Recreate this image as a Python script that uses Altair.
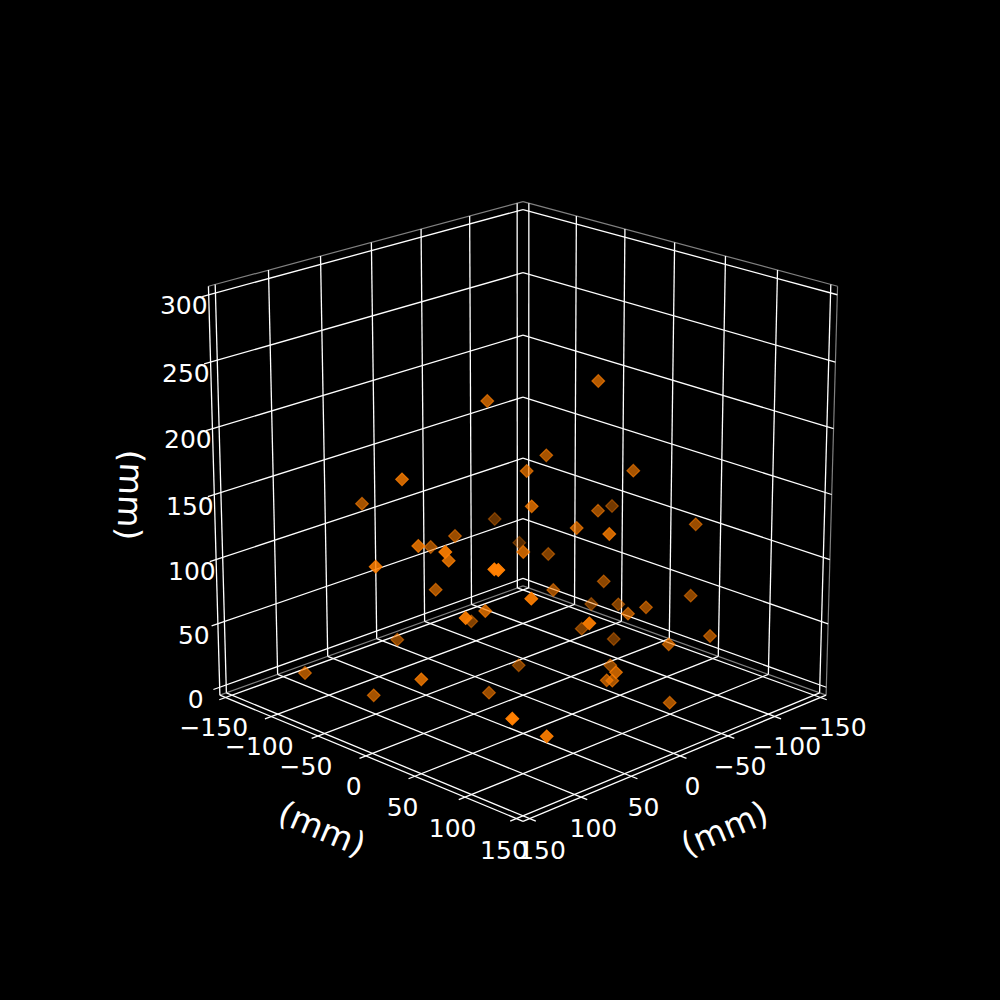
import math
import altair as alt
import pandas as pd

# Tick values of the three axes (mm)
x_ticks = [-150, -100, -50, 0, 50, 100, 150]
y_ticks = [-150, -100, -50, 0, 50, 100, 150]
z_ticks = [0, 50, 100, 150, 200, 250, 300]
axis_title = "(mm)"

# Scatter: projected positions and depth-shade opacity
px = [487.3, 402, 362, 526.7, 531.7, 494.7, 455, 418.3, 430.7, 445.3, 448.7, 519.3, 523.3, 375.7,
      494.3, 498.3, 598.3, 546.3, 633.3, 598, 612, 576.7, 609.3, 695.7, 548.3, 435.7, 485.3, 465.7,
      471.3, 397.3, 305, 421.3, 373.7, 518.7, 489, 512.3, 531.3, 553.3, 603.7, 591.3, 618.3, 628,
      646, 690.7, 710, 589.3, 581.7, 613.7, 668.7, 610.3, 616, 606.7, 612.3, 669.7, 546.7]
py = [401, 479.3, 503.7, 471, 506.3, 519, 536, 546, 547, 552, 560.7, 542.7, 552, 566.7,
      569.3, 570, 381, 455.3, 470.7, 510.7, 506, 528, 534, 524.3, 554, 589.7, 611, 618,
      621.3, 639.7, 673, 679.3, 695.3, 665.3, 692.7, 718.7, 598.7, 590, 581.3, 604, 604.3, 613.7,
      607.3, 595.7, 636, 623.3, 628.7, 639, 644.3, 665.3, 672.3, 680.3, 680.7, 702.7, 736.3]
shade = [.7, .8, .65, .7, .75, .4, .6, .8, .6, .92, .8, .35, .75, .85,
         1, 1, .7, .65, .65, .6, .45, .7, .8, .6, .5, .65, .75, .92,
         .5, .55, .65, .8, .65, .5, .6, 1, .92, .6, .55, .45, .5, .65,
         .6, .55, .6, .92, .5, .45, .65, .55, .75, .65, .65, .65, .92]

# Camera of the 3D view
ELEV, AZIM, DIST = math.radians(19.8), math.radians(45), 10.0
LOW, HIGH, Z_LOW, Z_HIGH = -156.25, 156.25, -6.25, 306.25
BOX, Z_BOX = 1.1003, 1.0948
SCALE, CX, CY = 3968.0, 523.0, 494.5


def project(x, y, z):
    k = BOX / (HIGH - LOW)
    kz = Z_BOX / (Z_HIGH - Z_LOW)
    p = (x * k, y * k, (z - (Z_LOW + Z_HIGH) / 2) * kz)
    ce, se, ca, sa = math.cos(ELEV), math.sin(ELEV), math.cos(AZIM), math.sin(AZIM)
    u = (-sa, ca, 0)
    v = (-se * ca, -se * sa, ce)
    w = (ce * ca, ce * sa, se)
    dot = lambda a: sum(i * j for i, j in zip(a, p))
    d = DIST - dot(w)
    return CX + SCALE * dot(u) / d, CY - SCALE * dot(v) / d


def seg(a, b):
    (x0, y0), (x1, y1) = project(*a), project(*b)
    return {"x": x0, "y": y0, "x2": x1, "y2": y1}


TICK = 6.0
grid = []
for t in x_ticks:
    grid.append(seg((t, LOW, Z_LOW), (t, HIGH + TICK, Z_LOW)))
    grid.append(seg((t, LOW, Z_LOW), (t, LOW, Z_HIGH)))
for t in y_ticks:
    grid.append(seg((LOW, t, Z_LOW), (HIGH + TICK, t, Z_LOW)))
    grid.append(seg((LOW, t, Z_LOW), (LOW, t, Z_HIGH)))
for t in z_ticks:
    grid.append(seg((LOW, LOW, t), (HIGH + TICK, LOW, t)))
    grid.append(seg((LOW, LOW, t), (LOW, HIGH, t)))

pane_edges = [
    seg((LOW, LOW, Z_HIGH), (HIGH, LOW, Z_HIGH)),
    seg((LOW, LOW, Z_HIGH), (LOW, HIGH, Z_HIGH)),
    seg((LOW, HIGH, Z_LOW), (LOW, HIGH, Z_HIGH)),
    seg((LOW, LOW, Z_LOW), (HIGH, LOW, Z_LOW)),
    seg((LOW, LOW, Z_LOW), (LOW, HIGH, Z_LOW)),
]
axis_lines = [
    seg((HIGH, LOW, Z_LOW), (HIGH, HIGH, Z_LOW)),
    seg((LOW, HIGH, Z_LOW), (HIGH, HIGH, Z_LOW)),
    seg((HIGH, LOW, Z_LOW), (HIGH, LOW, Z_HIGH)),
]


def lab(t):
    return str(t).replace("-", "\u2212")


labels = []
for t in x_ticks:
    sx, sy = project(t, HIGH + 12, Z_LOW - 19.5)
    labels.append({"x": sx, "y": sy, "t": lab(t)})
for t in y_ticks:
    sx, sy = project(HIGH + 12, t, Z_LOW - 19.5)
    labels.append({"x": sx, "y": sy, "t": lab(t)})
for t in z_ticks:
    sx, sy = project(HIGH + 23, LOW, t - 2.5)
    labels.append({"x": sx, "y": sy, "t": lab(t)})

titles = [
    {"x": 321.5, "y": 830, "t": axis_title, "a": 23},
    {"x": 725, "y": 830, "t": axis_title, "a": -23},
    {"x": 129, "y": 495, "t": axis_title, "a": 92},
]

pts = pd.DataFrame({"x": px, "y": py, "o": shade}).sort_values("o", kind="stable")

X = alt.Scale(domain=[8, 992], range=[0, 984])
Y = alt.Scale(domain=[8, 992], range=[0, 984])
ex = alt.X("x:Q", scale=X, axis=None)
ey = alt.Y("y:Q", scale=Y, axis=None)


def rules(rows, color, width):
    return (
        alt.Chart(pd.DataFrame(rows))
        .mark_rule(color=color, strokeWidth=width)
        .encode(x=ex, y=ey, x2="x2:Q", y2="y2:Q")
    )


points = (
    alt.Chart(pts)
    .mark_point(shape="diamond", filled=True, size=160, opacity=1, fill="#ff7f00", stroke="#ff7f00", strokeWidth=1.2)
    .encode(
        x=ex,
        y=ey,
        fillOpacity=alt.FillOpacity("o:Q", scale=None),
        strokeOpacity=alt.StrokeOpacity("o:Q", scale=None),
    )
)

tick_text = (
    alt.Chart(pd.DataFrame(labels))
    .mark_text(font="DejaVu Sans", fontSize=25, color="white", align="center", baseline="middle", dy=1)
    .encode(x=ex, y=ey, text="t:N")
)

title_text = (
    alt.Chart(pd.DataFrame(titles))
    .mark_text(font="DejaVu Sans", fontSize=33.3, color="white", align="center", baseline="middle")
    .encode(x=ex, y=ey, text="t:N", angle=alt.Angle("a:Q", scale=None))
)

chart = (
    alt.layer(
        rules(pane_edges, "#808080", 1.2),
        rules(grid, "#ffffff", 1.3),
        rules(axis_lines, "#ffffff", 1.3),
        points,
        tick_text,
        title_text,
    )
    .properties(width=984, height=984, background="#000000", padding=0,
                autosize=alt.AutoSizeParams(type="none"))
    .configure_view(strokeWidth=0)
)

chart.save("out.html", embed_options={"renderer": "svg", "actions": False,
                                      "defaultStyle": "body{background:#000000}"})
